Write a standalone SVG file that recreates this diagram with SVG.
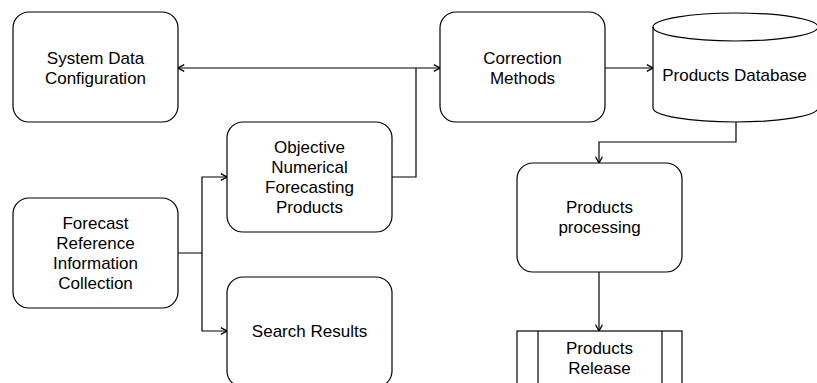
<svg xmlns="http://www.w3.org/2000/svg" width="817" height="383" viewBox="0 0 817 383">
  <style>
    .box { fill: #ffffff; stroke: #000000; stroke-width: 1.2; }
    .lbl { font-family: "Liberation Sans", Arial, Helvetica, sans-serif; font-size: 17px; fill: #000000; text-anchor: middle; }
    .edge { fill: none; stroke: #000000; stroke-width: 1.2; }
  </style>
  <defs>
    <marker id="arr" viewBox="0 0 8 8" markerWidth="8" markerHeight="8" refX="7.4" refY="4" orient="auto-start-reverse" markerUnits="userSpaceOnUse">
      <path d="M1.2,0.6 L7.4,4 L1.2,7.4" fill="none" stroke="#000000" stroke-width="1.3"/>
    </marker>
  </defs>
  <rect x="0" y="0" width="817" height="383" fill="#ffffff"/>

  <g id="connectors">
    <path class="edge" d="M178,68 L440,68" marker-start="url(#arr)" marker-end="url(#arr)"/>
    <path class="edge" d="M392,177 L416,177 L416,68"/>
    <path class="edge" d="M178,253 L202,253 L202,177 L227,177" marker-end="url(#arr)"/>
    <path class="edge" d="M202,253 L202,331 L227,331" marker-end="url(#arr)"/>
    <path class="edge" d="M605,68 L653,68" marker-end="url(#arr)"/>
    <path class="edge" d="M736,122 L736,142 L599,142 L599,163" marker-end="url(#arr)"/>
    <path class="edge" d="M599,272 L599,331" marker-end="url(#arr)"/>
  </g>

  <g id="system-data-configuration">
    <rect class="box" x="13" y="12" width="165" height="110" rx="16" ry="16"/>
    <text class="lbl" x="95.5" y="64">System Data</text>
    <text class="lbl" x="95.5" y="84">Configuration</text>
  </g>

  <g id="correction-methods">
    <rect class="box" x="440" y="12" width="165" height="110" rx="16" ry="16"/>
    <text class="lbl" x="522.5" y="64">Correction</text>
    <text class="lbl" x="522.5" y="84">Methods</text>
  </g>

  <g id="products-database">
    <path class="box" d="M653,27 L653,108 A82.5,14 0 0 0 818,108 L818,27 A82.5,14 0 0 0 653,27 Z"/>
    <path class="edge" d="M653,27 A82.5,14 0 0 0 818,27"/>
    <text class="lbl" x="734.5" y="81">Products Database</text>
  </g>

  <g id="objective-numerical-forecasting-products">
    <rect class="box" x="227" y="122" width="165" height="110" rx="16" ry="16"/>
    <text class="lbl" x="309.5" y="153">Objective</text>
    <text class="lbl" x="309.5" y="173">Numerical</text>
    <text class="lbl" x="309.5" y="193">Forecasting</text>
    <text class="lbl" x="309.5" y="213">Products</text>
  </g>

  <g id="forecast-reference-information-collection">
    <rect class="box" x="13" y="198" width="165" height="110" rx="16" ry="16"/>
    <text class="lbl" x="95.5" y="229">Forecast</text>
    <text class="lbl" x="95.5" y="249">Reference</text>
    <text class="lbl" x="95.5" y="269">Information</text>
    <text class="lbl" x="95.5" y="289">Collection</text>
  </g>

  <g id="search-results">
    <rect class="box" x="227" y="277" width="165" height="110" rx="16" ry="16"/>
    <text class="lbl" x="309.5" y="337">Search Results</text>
  </g>

  <g id="products-processing">
    <rect class="box" x="517" y="163" width="165" height="109" rx="16" ry="16"/>
    <text class="lbl" x="599.5" y="213">Products</text>
    <text class="lbl" x="599.5" y="233">processing</text>
  </g>

  <g id="products-release">
    <rect class="box" x="517" y="331" width="165" height="110"/>
    <line class="edge" x1="538" y1="331" x2="538" y2="441"/>
    <line class="edge" x1="662" y1="331" x2="662" y2="441"/>
    <text class="lbl" x="599.5" y="354">Products</text>
    <text class="lbl" x="599.5" y="374">Release</text>
  </g>
</svg>
